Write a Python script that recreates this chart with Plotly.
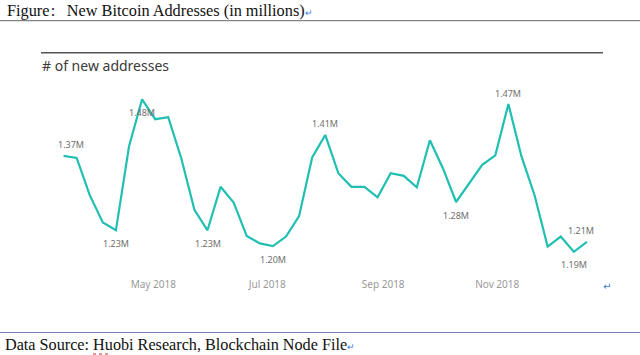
import pandas as pd
import plotly.graph_objects as go

# ---------------- data ----------------
start_date = "2018-03-14"
new_addresses_m = [
    1.372, 1.368, 1.297, 1.245, 1.230, 1.390, 1.480, 1.442, 1.446, 1.367,
    1.269, 1.230, 1.313, 1.283, 1.219, 1.205, 1.200, 1.218, 1.257, 1.369,
    1.412, 1.339, 1.313, 1.313, 1.293, 1.339, 1.334, 1.312, 1.402, 1.348,
    1.284, 1.320, 1.355, 1.373, 1.471, 1.371, 1.297, 1.199, 1.218, 1.189,
    1.208,
]
label_index = [0, 4, 6, 11, 16, 20, 30, 34, 39, 40]
label_above = [True, False, False, False, False, True, False, True, False, True]
tick_dates = ["2018-05-01", "2018-07-01", "2018-09-01", "2018-11-01"]
tick_text = ["May 2018", "Jul 2018", "Sep 2018", "Nov 2018"]

dates = pd.date_range(start_date, periods=len(new_addresses_m), freq="7D")

# ---------------- layout geometry (pixels) ----------------
W, H = 640, 355
L, R, T, B = 42, 603, 80, 272
# x scale: May 1 at 153.3 px, 1.869 px per day
px_per_day = 1.869
x_ref = pd.Timestamp("2018-05-01")
x0 = x_ref - pd.Timedelta(days=(153.3 - L) / px_per_day)
x1 = x_ref + pd.Timedelta(days=(R - 153.3) / px_per_day)
# y scale: 1.48 at 99.3 px, 524 px per million
y_top = 1.48 + (99.3 - T) / 524
y_bot = 1.48 - (B - 99.3) / 524


def px(xp):
    return (xp - L) / (R - L)


def py(yp):
    return (B - yp) / (B - T)


LINE = "#21BFB1"
fig = go.Figure()
fig.add_trace(go.Scatter(
    x=dates, y=new_addresses_m, mode="lines",
    line=dict(color=LINE, width=2.2), hoverinfo="skip", showlegend=False,
))

annotations = []
xshift = {0: 7, 40: -6}
for i, above in zip(label_index, label_above):
    annotations.append(dict(
        x=dates[i], y=new_addresses_m[i], xref="x", yref="y",
        text=f"{new_addresses_m[i]:.2f}M", showarrow=False,
        font=dict(family="Noto Sans", size=9, color="#6f6f6f"),
        yshift=11 if above else -13, xshift=xshift.get(i, 0),
        xanchor="center", yanchor="middle",
    ))

serif = "Liberation Serif, Times New Roman, serif"
annotations += [
    dict(x=px(5), y=py(10), xref="paper", yref="paper", showarrow=False,
         xanchor="left", yanchor="middle",
         text="Figure\u200a:\u2002\u2009New Bitcoin Addresses (in millions)<span style='color:#3a7be0;font-size:9px'>↵</span>",
         font=dict(family=serif, size=16.3, color="#111")),
    dict(x=px(40), y=py(66), xref="paper", yref="paper", showarrow=False,
         xanchor="left", yanchor="middle", text="# of new addresses",
         font=dict(family="Noto Sans", size=14, color="#3a3a3a")),
    dict(x=px(607), y=py(286), xref="paper", yref="paper", showarrow=False,
         xanchor="center", yanchor="middle", text="↵",
         font=dict(family="DejaVu Sans", size=10, color="#3a7be0")),
    dict(x=px(3), y=py(345), xref="paper", yref="paper", showarrow=False,
         xanchor="left", yanchor="middle",
         text="Data Source: Huobi Research, Blockchain Node File<span style='color:#3a7be0;font-size:9px'>↵</span>",
         font=dict(family=serif, size=16.2, color="#111")),
]

shapes = [
    dict(type="line", xref="paper", yref="paper", x0=px(0), x1=px(640),
         y0=py(20.7), y1=py(20.7), line=dict(color="#666", width=1)),
    dict(type="line", xref="paper", yref="paper", x0=px(41), x1=px(603),
         y0=py(52.7), y1=py(52.7), line=dict(color="#555", width=1.5)),
    dict(type="line", xref="paper", yref="paper", x0=px(0), x1=px(640),
         y0=py(332.5), y1=py(332.5), line=dict(color="#7b7bb8", width=1)),
    dict(type="line", xref="paper", yref="paper", x0=px(93), x1=px(111),
         y0=py(354), y1=py(354), line=dict(color="#e02020", width=1, dash="dot")),
]

fig.update_layout(
    width=W, height=H,
    margin=dict(l=L, r=W - R, t=T, b=H - B, pad=0),
    paper_bgcolor="white", plot_bgcolor="white",
    xaxis=dict(range=[x0, x1], tickvals=tick_dates, ticktext=tick_text,
               showgrid=False, zeroline=False, showline=False, ticks="",
               tickfont=dict(family="Noto Sans", size=10, color="#999"),
               ticklabelstandoff=5),
    yaxis=dict(range=[y_bot, y_top], visible=False, showgrid=False),
    annotations=annotations, shapes=shapes, showlegend=False,
)

fig.write_html(
    "out.html", config={"displayModeBar": False},
    post_script="document.body.style.margin='0';document.body.style.padding='0';",
)
